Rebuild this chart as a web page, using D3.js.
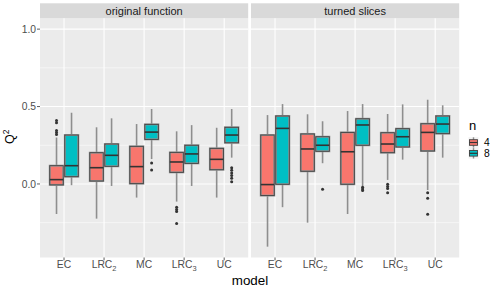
<!DOCTYPE html>
<html><head><meta charset="utf-8">
<script src="https://cdn.jsdelivr.net/npm/d3@7"></script>
<style>body{margin:0;background:#fff}svg{display:block;font-family:"Liberation Sans",Arial,sans-serif}</style>
</head><body><svg id="c" width="498" height="291"></svg>
<script>
const models = ["EC","LRC2","MC","LRC3","UC"];
const facets = ["original function","turned slices"];
const groups = ["4","8"];
const yTicks = [0, 0.5, 1.0];
const yMinor = [-0.25, 0.25, 0.75];
// [lower whisker, Q1, median, Q3, upper whisker] per model
const orig4 = [[-0.194,-0.006,0.028,0.118,0.30],[-0.224,0.019,0.105,0.202,0.366],[-0.088,0.002,0.112,0.243,0.387],[-0.114,0.075,0.142,0.204,0.34],[-0.088,0.092,0.159,0.23,0.363]];
const orig8 = [[-0.008,0.047,0.118,0.316,0.46],[-0.013,0.114,0.185,0.258,0.424],[0.161,0.288,0.335,0.385,0.484],[-0.013,0.133,0.194,0.25,0.38],[0.17,0.266,0.316,0.366,0.484]];
const turn4 = [[-0.405,-0.075,-0.004,0.316,0.445],[-0.25,0.082,0.226,0.323,0.45],[-0.194,-0.002,0.208,0.333,0.471],[0.026,0.202,0.258,0.331,0.452],[-0.039,0.213,0.333,0.389,0.544]];
const turn8 = [[-0.15,-0.002,0.359,0.439,0.516],[0.134,0.211,0.25,0.305,0.405],[-0.015,0.25,0.381,0.421,0.516],[0.157,0.239,0.305,0.357,0.514],[0.17,0.325,0.387,0.439,0.508]];
// outliers per model
const orig4Out = [[0.319,0.332,0.345,0.395,0.41],[],[],[-0.15,-0.165,-0.178,-0.256],[]];
const orig8Out = [[],[],[0.135,0.09],[],[0.105,0.088,0.071,0.054,0.037,0.015]];
const turn4Out = [[],[],[],[-0.002,-0.017,-0.03,-0.056],[-0.056,-0.092,-0.196]];
const turn8Out = [[],[-0.034],[-0.021,-0.032,-0.043],[],[]];

const colors = {"4":"#F8766D","8":"#00BFC4"};
const data = [
  {facet:facets[0], sets:{"4":[orig4,orig4Out],"8":[orig8,orig8Out]}},
  {facet:facets[1], sets:{"4":[turn4,turn4Out],"8":[turn8,turn8Out]}}
];

const svg = d3.select("#c");
const panelTop = 18.3, panelBot = 257.5, stripTop = 3.3;
const panelsX = [[40,248.2],[251,459.2]];
const y = d3.scaleLinear().domain([-0.475,1.07]).range([panelBot,panelTop]);
const fs = 10.3;

function label(sel, name){
  const m = name.match(/^([A-Z]+?)(\d)$/);
  if(m){
    sel.append("tspan").text(m[1]);
    sel.append("tspan").attr("font-size",fs*0.72).attr("dy",2.6).text(m[2]);
  } else sel.text(name);
}

data.forEach((p,pi)=>{
  const [x0,x1] = panelsX[pi];
  const x = d3.scalePoint().domain(models).range([x0,x1]).padding(0.6);
  const slot = d3.scaleBand().domain(groups).range([-x.step()*0.375, x.step()*0.375]);
  const g = svg.append("g");
  g.append("rect").attr("x",x0).attr("y",panelTop).attr("width",x1-x0).attr("height",panelBot-panelTop).attr("fill","#EBEBEB");
  // strip
  g.append("rect").attr("x",x0).attr("y",stripTop).attr("width",x1-x0).attr("height",panelTop-stripTop).attr("fill","#D9D9D9");
  g.append("text").attr("x",(x0+x1)/2).attr("y",14.7).attr("text-anchor","middle").attr("font-size",11).attr("fill","#1A1A1A").text(p.facet);
  // grid
  yMinor.forEach(v=>g.append("line").attr("x1",x0).attr("x2",x1).attr("y1",y(v)).attr("y2",y(v)).attr("stroke","#fff").attr("stroke-width",0.55));
  yTicks.forEach(v=>g.append("line").attr("x1",x0).attr("x2",x1).attr("y1",y(v)).attr("y2",y(v)).attr("stroke","#fff").attr("stroke-width",1.1));
  models.forEach(m=>g.append("line").attr("x1",x(m)).attr("x2",x(m)).attr("y1",panelTop).attr("y2",panelBot).attr("stroke","#fff").attr("stroke-width",1.1));
  // x axis ticks & labels
  models.forEach(m=>{
    g.append("line").attr("x1",x(m)).attr("x2",x(m)).attr("y1",panelBot).attr("y2",panelBot+2.8).attr("stroke","#333").attr("stroke-width",0.8);
    const t = g.append("text").attr("x",x(m)).attr("y",268).attr("text-anchor","middle").attr("font-size",fs).attr("fill","#4D4D4D");
    label(t,m);
  });
  // boxes
  groups.forEach(gr=>{
    const [stats,outs] = p.sets[gr];
    models.forEach((m,i)=>{
      const s = stats[i];
      const cx = x(m) + slot(gr) + slot.bandwidth()/2;
      const w = slot.bandwidth()*0.9;
      g.append("line").attr("x1",cx).attr("x2",cx).attr("y1",y(s[4])).attr("y2",y(s[3])).attr("stroke","#8E8E8E").attr("stroke-width",1.6);
      g.append("line").attr("x1",cx).attr("x2",cx).attr("y1",y(s[1])).attr("y2",y(s[0])).attr("stroke","#8E8E8E").attr("stroke-width",1.6);
      g.append("rect").attr("x",cx-w/2).attr("y",y(s[3])).attr("width",w).attr("height",y(s[1])-y(s[3])).attr("fill",colors[gr]).attr("stroke","#9A9A9A").attr("stroke-width",2);
      g.append("rect").attr("x",cx-w/2).attr("y",y(s[3])).attr("width",w).attr("height",y(s[1])-y(s[3])).attr("fill","none").attr("stroke","#404040").attr("stroke-width",0.9);
      g.append("line").attr("x1",cx-w/2).attr("x2",cx+w/2).attr("y1",y(s[2])).attr("y2",y(s[2])).attr("stroke","#333").attr("stroke-width",1.6);
      outs[i].forEach(v=>g.append("circle").attr("cx",cx).attr("cy",y(v)).attr("r",1.5).attr("fill","#333"));
    });
  });
});

// y axis
yTicks.forEach(v=>{
  svg.append("line").attr("x1",37).attr("x2",40).attr("y1",y(v)).attr("y2",y(v)).attr("stroke","#333").attr("stroke-width",0.8);
  svg.append("text").attr("x",36).attr("y",y(v)+3.6).attr("text-anchor","end").attr("font-size",fs).attr("fill","#4D4D4D").text(d3.format(".1f")(v));
});
// axis titles
const yt = svg.append("text").attr("transform","translate(14,144) rotate(-90)").attr("text-anchor","start").attr("font-size",12.5).attr("fill","#000");
yt.append("tspan").text("Q");
yt.append("tspan").attr("font-size",8.5).attr("dy",-5.5).text("2");
svg.append("text").attr("x",250).attr("y",285).attr("text-anchor","middle").attr("font-size",13.4).attr("fill","#000").text("model");

// legend
const lg = svg.append("g");
lg.append("text").attr("x",469).attr("y",129.5).attr("font-size",13).attr("fill","#000").text("n");
groups.forEach((gr,i)=>{
  const cy = 142.5 + i*10.8;
  const kx = 468.5, kw = 10;
  lg.append("rect").attr("x",kx).attr("y",cy-5.4).attr("width",kw).attr("height",10.8).attr("fill","#F2F2F2");
  lg.append("line").attr("x1",kx+kw/2).attr("x2",kx+kw/2).attr("y1",cy-5.2).attr("y2",cy+5.2).attr("stroke","#8E8E8E").attr("stroke-width",1.4);
  lg.append("rect").attr("x",kx+1).attr("y",cy-2.8).attr("width",kw-2).attr("height",5.6).attr("fill",colors[gr]).attr("stroke","#404040").attr("stroke-width",0.9);
  lg.append("line").attr("x1",kx+1).attr("x2",kx+kw-1).attr("y1",cy).attr("y2",cy).attr("stroke","#333").attr("stroke-width",1.2);
  lg.append("text").attr("x",484).attr("y",cy+3.6).attr("font-size",fs).attr("fill","#000").text(gr);
});
</script></body></html>
